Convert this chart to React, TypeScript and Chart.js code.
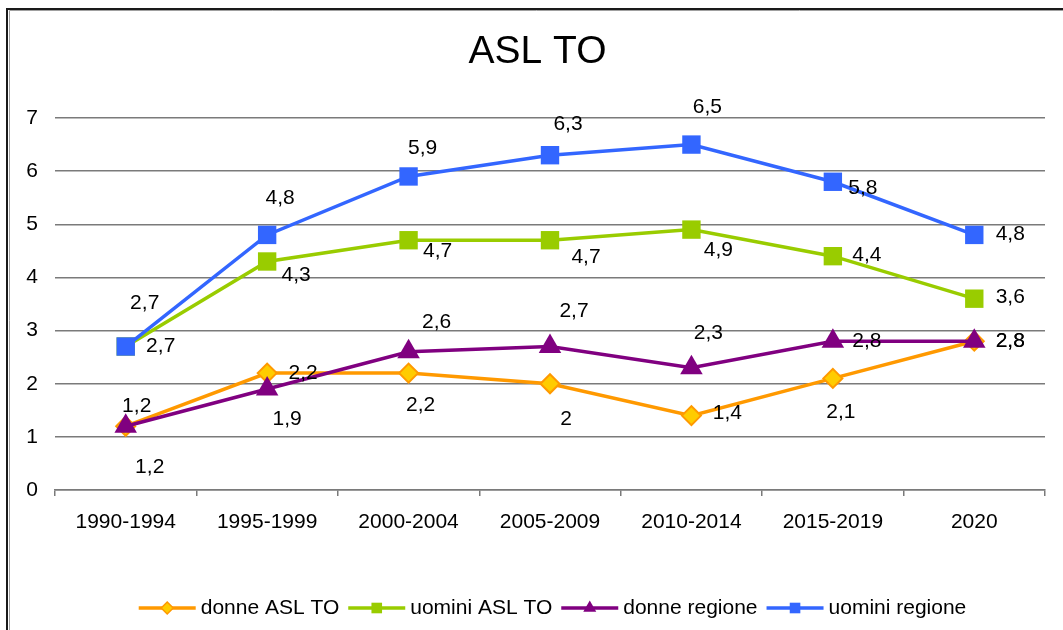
import React, { useEffect, useRef } from "react";
import { Chart, registerables } from "chart.js";

Chart.register(...registerables);

// ---- data ----
const categories = ["1990-1994", "1995-1999", "2000-2004", "2005-2009", "2010-2014", "2015-2019", "2020"];
const donneAslTo = [1.2, 2.2, 2.2, 2.0, 1.4, 2.1, 2.8];
const uominiAslTo = [2.7, 4.3, 4.7, 4.7, 4.9, 4.4, 3.6];
const donneRegione = [1.2, 1.9, 2.6, 2.7, 2.3, 2.8, 2.8];
const uominiRegione = [2.7, 4.8, 5.9, 6.3, 6.5, 5.8, 4.8];
const seriesNames = ["donne ASL TO", "uomini ASL TO", "donne regione", "uomini regione"];
const titleText = "ASL TO";
const yMin = 0;
const yMax = 7;
const yStep = 1;

// ---- styling (label placement offsets in px, not data) ----
const FONT = "'Liberation Sans', Arial, Helvetica, sans-serif";
const labelOffsets: number[][][] = [
  // donne ASL TO
  [[11, -20], [36, 0], [12, 32], [16, 35], [36, -2], [8, 34], [36, 0]],
  // uomini ASL TO
  [[35, 0], [29, 14], [29, 11], [36, 17], [27, 21], [34, -1], [36, -1]],
  // donne regione
  [[24, 41], [20, 30], [28, -30], [24, -35], [17, -35], [34, 0], [36, 0]],
  // uomini regione
  [[19, -43], [13, -37], [14, -28], [18, -31], [16, -37], [30, 6], [36, -1]],
];

const styles = [
  { line: "#FF9900", fill: "#FFCC00", border: "#FF9900", bw: 2, shape: "rectRot", r: 9.5, lr: 6 },
  { line: "#99CC00", fill: "#99CC00", border: "#99CC00", bw: 0, shape: "rect", r: 13, lr: 7.5 },
  { line: "#800080", fill: "#800080", border: "#800080", bw: 0, shape: "triangle", r: 13, lr: 7.5 },
  { line: "#3366FF", fill: "#3366FF", border: "#3366FF", bw: 0, shape: "rect", r: 13, lr: 7.5 },
];

const fmt = (v: number) => String(v).replace(".", ",");

function drawMarker(ctx: CanvasRenderingContext2D, shape: string, x: number, y: number, r: number, fill: string, border: string, bw: number) {
  ctx.save();
  ctx.beginPath();
  if (shape === "rect") {
    const s = Math.SQRT1_2 * r;
    ctx.rect(x - s, y - s, 2 * s, 2 * s);
  } else if (shape === "rectRot") {
    ctx.moveTo(x, y - r);
    ctx.lineTo(x + r, y);
    ctx.lineTo(x, y + r);
    ctx.lineTo(x - r, y);
    ctx.closePath();
  } else {
    const h = r;
    ctx.moveTo(x, y - h);
    ctx.lineTo(x + h * 0.866, y + h * 0.5);
    ctx.lineTo(x - h * 0.866, y + h * 0.5);
    ctx.closePath();
  }
  ctx.fillStyle = fill;
  ctx.fill();
  if (bw > 0) {
    ctx.lineWidth = bw;
    ctx.strokeStyle = border;
    ctx.stroke();
  }
  ctx.restore();
}

const decorPlugin = {
  id: "decor",
  beforeDraw(chart: any) {
    const ctx = chart.ctx as CanvasRenderingContext2D;
    ctx.save();
    ctx.strokeStyle = "#a0a0a0";
    ctx.lineWidth = 1;
    ctx.beginPath();
    ctx.moveTo(9.5, 630);
    ctx.lineTo(9.5, 10.5);
    ctx.lineTo(1063, 10.5);
    ctx.stroke();
    ctx.strokeStyle = "#1a1a1a";
    ctx.lineWidth = 2;
    ctx.beginPath();
    ctx.moveTo(7, 630);
    ctx.lineTo(7, 9);
    ctx.lineTo(1063, 9);
    ctx.stroke();
    ctx.restore();
  },
  afterDatasetsDraw(chart: any) {
    const ctx = chart.ctx as CanvasRenderingContext2D;
    ctx.save();
    ctx.font = `21px ${FONT}`;
    ctx.fillStyle = "#000";
    ctx.textAlign = "center";
    ctx.textBaseline = "middle";
    chart.data.datasets.forEach((ds: any, i: number) => {
      const meta = chart.getDatasetMeta(i);
      meta.data.forEach((pt: any, j: number) => {
        const off = labelOffsets[i][j];
        ctx.fillText(fmt(ds.data[j]), pt.x + off[0], pt.y + off[1]);
      });
    });
    ctx.restore();
  },
  afterDraw(chart: any) {
    const ctx = chart.ctx as CanvasRenderingContext2D;
    ctx.save();
    // title
    ctx.font = `39px ${FONT}`;
    ctx.fillStyle = "#000";
    ctx.textAlign = "center";
    ctx.textBaseline = "middle";
    ctx.fillText(titleText, 537.5, 52);
    // legend
    ctx.font = `21px ${FONT}`;
    const lineLen = 57;
    const gapText = 5;
    const gapItem = 9;
    const widths = seriesNames.map((n) => ctx.measureText(n).width);
    const total = widths.reduce((a, b) => a + b, 0) + seriesNames.length * (lineLen + gapText) + (seriesNames.length - 1) * gapItem;
    let x = 552.5 - total / 2;
    const y = 608;
    seriesNames.forEach((name, i) => {
      const st = styles[i];
      ctx.strokeStyle = st.line;
      ctx.lineWidth = 3.5;
      ctx.beginPath();
      ctx.moveTo(x, y);
      ctx.lineTo(x + lineLen, y);
      ctx.stroke();
      drawMarker(ctx, st.shape, x + lineLen / 2, y, st.lr, st.fill, st.border, st.bw > 0 ? 1.5 : 0);
      ctx.fillStyle = "#000";
      ctx.textAlign = "left";
      ctx.textBaseline = "middle";
      ctx.fillText(name, x + lineLen + gapText, y);
      x += lineLen + gapText + widths[i] + gapItem;
    });
    ctx.restore();
  },
};

export default function App() {
  const ref = useRef<HTMLCanvasElement | null>(null);
  useEffect(() => {
    if (!ref.current) return;
    const series = [donneAslTo, uominiAslTo, donneRegione, uominiRegione];
    const orders = [4, 3, 2, 1];
    const chart = new Chart(ref.current, {
      type: "line",
      data: {
        labels: categories,
        datasets: series.map((d, i) => ({
          label: seriesNames[i],
          data: d,
          order: orders[i],
          borderColor: styles[i].line,
          backgroundColor: styles[i].fill,
          borderWidth: 3.5,
          pointStyle: styles[i].shape as any,
          pointRadius: styles[i].r,
          pointHoverRadius: styles[i].r,
          pointBackgroundColor: styles[i].fill,
          pointBorderColor: styles[i].border,
          pointBorderWidth: styles[i].bw,
          tension: 0,
          fill: false,
          clip: false as any,
        })),
      },
      options: {
        responsive: false,
        animation: false,
        events: [],
        layout: { padding: { top: 118, left: 0, right: 18, bottom: 90 } },
        plugins: {
          legend: { display: false },
          title: { display: false },
          tooltip: { enabled: false },
        },
        scales: {
          x: {
            offset: true,
            grid: {
              offset: true,
              drawOnChartArea: false,
              drawTicks: true,
              tickLength: 6,
              color: "#7a7a7a",
              lineWidth: 1.5,
            },
            border: { display: true, color: "#7a7a7a", width: 1.5 },
            ticks: {
              color: "#000",
              font: { family: FONT, size: 21 },
              padding: 14,
              maxRotation: 0,
              autoSkip: false,
            },
            afterFit: (scale: any) => {
              scale.height = 50;
            },
          },
          y: {
            min: yMin,
            max: yMax,
            ticks: {
              stepSize: yStep,
              color: "#000",
              font: { family: FONT, size: 21 },
              padding: 17,
            },
            grid: { color: "#7a7a7a", lineWidth: 1.5, drawTicks: false },
            border: { display: false },
            afterFit: (scale: any) => {
              scale.width = 55;
            },
          },
        },
      },
      plugins: [decorPlugin],
    });
    return () => chart.destroy();
  }, []);
  return (
    <div style={{ position: "absolute", left: 0, top: 0, width: 1063, height: 630, background: "#fff" }}>
      <canvas ref={ref} width={1063} height={630} style={{ display: "block" }} />
    </div>
  );
}
